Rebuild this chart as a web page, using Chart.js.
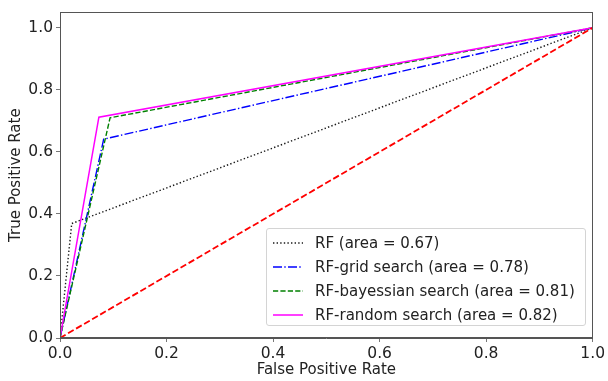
<!DOCTYPE html>
<html>
<head>
<meta charset="utf-8">
<script src="https://cdn.jsdelivr.net/npm/chart.js@4.4.1/dist/chart.umd.min.js"></script>
<style>
  html, body { margin: 0; padding: 0; background: #fff; }
  #wrap { position: relative; width: 608px; height: 381px; }
  #legend {
    position: absolute; left: 266px; top: 228px; width: 320px; height: 98px;
    border: 1px solid #d4d4d4; border-radius: 3px; background: rgba(255,255,255,0.8);
    font-family: "DejaVu Sans", sans-serif; font-size: 15px; color: #222;
    box-sizing: border-box; padding-top: 2px;
  }
  .row { height: 24px; display: flex; align-items: center; white-space: nowrap; }
  .row svg { margin-left: 6px; margin-right: 12px; flex: none; }
</style>
</head>
<body>
<div id="wrap">
  <canvas id="c" width="608" height="381"></canvas>
  <div id="legend"></div>
</div>
<script>
// ---- data ----
const fprRF = [0, 0.022, 1];
const tprRF = [0, 0.369, 1];
const fprGrid = [0, 0.082, 1];
const tprGrid = [0, 0.641, 1];
const fprBayes = [0, 0.094, 1];
const tprBayes = [0, 0.710, 1];
const fprRandom = [0, 0.073, 1];
const tprRandom = [0, 0.712, 1];
const fprChance = [0, 1];
const tprChance = [0, 1];
const seriesLabels = [
  "RF (area = 0.67)",
  "RF-grid search (area = 0.78)",
  "RF-bayessian search (area = 0.81)",
  "RF-random search (area = 0.82)"
];
const xTicks = [0, 0.2, 0.4, 0.6, 0.8, 1.0];
const yTicks = [0, 0.2, 0.4, 0.6, 0.8, 1.0];
const xTitle = "False Positive Rate";
const yTitle = "True Positive Rate";

const pts = (xs, ys) => xs.map((x, i) => ({ x: x, y: ys[i] }));

const datasets = [
  { label: seriesLabels[0], data: pts(fprRF, tprRF), borderColor: "#1a1a1a", borderWidth: 1.4, borderDash: [1.4, 2.2], order: 4, inLegend: true },
  { label: seriesLabels[1], data: pts(fprGrid, tprGrid), borderColor: "#0000ff", borderWidth: 1.4, borderDash: [9, 2.3, 1.4, 2.3], order: 3, inLegend: true },
  { label: seriesLabels[2], data: pts(fprBayes, tprBayes), borderColor: "#008000", borderWidth: 1.4, borderDash: [5.2, 2.2], order: 2, inLegend: true },
  { label: seriesLabels[3], data: pts(fprRandom, tprRandom), borderColor: "#ff00ff", borderWidth: 1.5, borderDash: [], order: 1, inLegend: true },
  { label: "chance", data: pts(fprChance, tprChance), borderColor: "#ff0000", borderWidth: 1.8, borderDash: [6.5, 2.8], order: 0, inLegend: false }
];
datasets.forEach(d => { d.showLine = true; d.pointRadius = 0; d.pointHoverRadius = 0; d.fill = false; d.tension = 0; });

const frame = {
  id: "frame",
  afterDraw(chart) {
    const a = chart.chartArea, ctx = chart.ctx;
    ctx.save();
    ctx.strokeStyle = "#555";
    ctx.lineWidth = 1;
    ctx.strokeRect(Math.round(a.left) + 0.5, Math.round(a.top) + 0.5, Math.round(a.right - a.left) - 1, Math.round(a.bottom - a.top) - 1);
    ctx.restore();
  }
};

const font = { family: "DejaVu Sans", size: 15.5 };
const chart = new Chart(document.getElementById("c"), {
  type: "scatter",
  data: { datasets: datasets },
  options: {
    responsive: false,
    animation: false,
    devicePixelRatio: 1,
    layout: { padding: { left: 0, right: 11, top: 10, bottom: 0 } },
    plugins: { legend: { display: false }, tooltip: { enabled: false } },
    scales: {
      x: {
        type: "linear", min: 0, max: 1.0,
        afterBuildTicks: s => { s.ticks = xTicks.map(v => ({ value: v })); },
        afterFit: s => { s.height = 43; },
        ticks: { color: "#222", font: font, padding: 3, maxRotation: 0, callback: v => v.toFixed(1) },
        grid: { display: true, drawOnChartArea: false, tickLength: 4, color: "#666", tickColor: "#777" },
        border: { display: true, color: "#555" },
        title: { display: true, text: xTitle, color: "#222", font: { family: "DejaVu Sans", size: 15 }, padding: { top: 0, bottom: 2 } }
      },
      y: {
        type: "linear", min: 0, max: 1.05,
        afterBuildTicks: s => { s.ticks = yTicks.map(v => ({ value: v })); },
        afterFit: s => { s.width = 60; },
        ticks: { color: "#222", font: font, padding: 3, callback: v => v.toFixed(1) },
        grid: { display: true, drawOnChartArea: false, tickLength: 4, color: "#666", tickColor: "#777" },
        border: { display: true, color: "#555" },
        title: { display: true, text: yTitle, color: "#222", font: { family: "DejaVu Sans", size: 15 }, padding: { top: 7, bottom: 0 } }
      }
    }
  },
  plugins: [frame]
});

// HTML legend built from the chart's datasets
const leg = document.getElementById("legend");
chart.data.datasets.filter(d => d.inLegend).forEach(d => {
  const row = document.createElement("div");
  row.className = "row";
  const ns = "http://www.w3.org/2000/svg";
  const svg = document.createElementNS(ns, "svg");
  svg.setAttribute("width", "30"); svg.setAttribute("height", "8");
  const ln = document.createElementNS(ns, "line");
  ln.setAttribute("x1", "0"); ln.setAttribute("y1", "4"); ln.setAttribute("x2", "30"); ln.setAttribute("y2", "4");
  ln.setAttribute("stroke", d.borderColor);
  ln.setAttribute("stroke-width", d.borderWidth);
  if (d.borderDash.length) ln.setAttribute("stroke-dasharray", d.borderDash.join(" "));
  svg.appendChild(ln);
  const t = document.createElement("span");
  t.textContent = d.label;
  row.appendChild(svg); row.appendChild(t);
  leg.appendChild(row);
});
</script>
</body>
</html>
